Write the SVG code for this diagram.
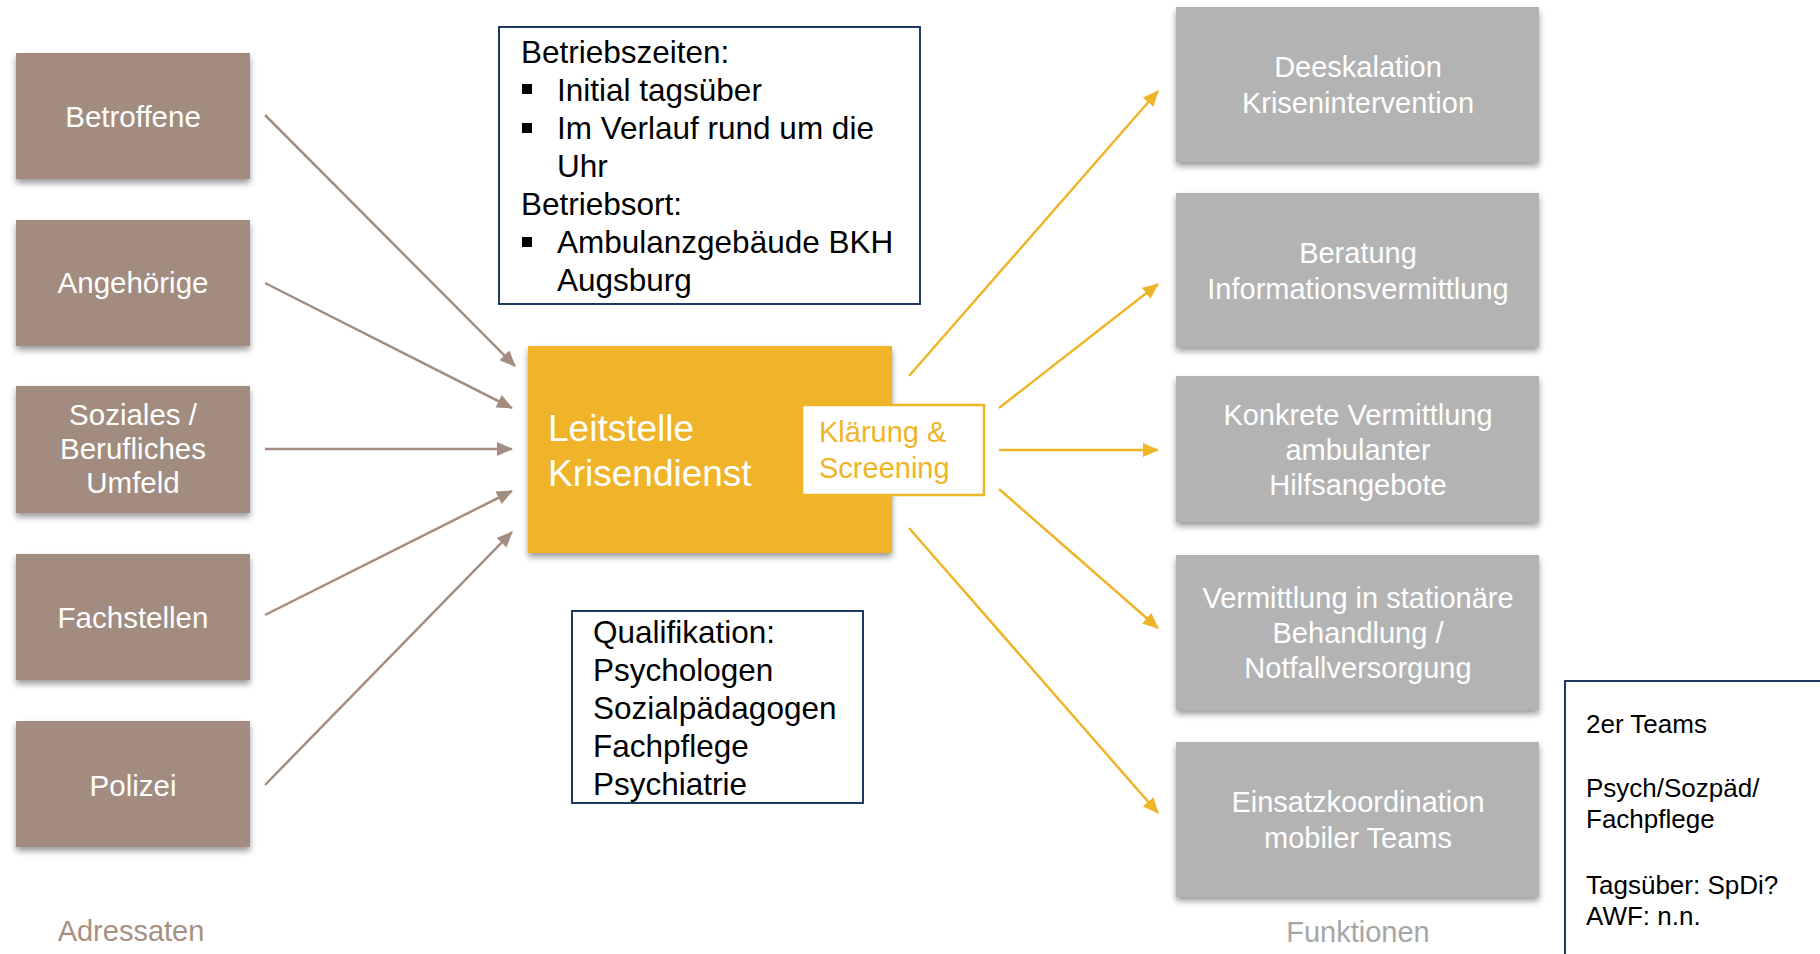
<svg xmlns="http://www.w3.org/2000/svg" width="1820" height="954" viewBox="0 0 1820 954">
<defs>
<filter id="sh" x="-10%" y="-10%" width="125%" height="130%">
<feDropShadow dx="0" dy="4" stdDeviation="3" flood-color="#000" flood-opacity="0.4"/>
</filter>
<marker id="ab" viewBox="0 0 16 14" refX="15" refY="7" markerWidth="16" markerHeight="14" markerUnits="userSpaceOnUse" orient="auto">
<path d="M0,0 L16,7 L0,14 Z" fill="#A38D80"/>
</marker>
<marker id="ao" viewBox="0 0 16 14" refX="15" refY="7" markerWidth="16" markerHeight="14" markerUnits="userSpaceOnUse" orient="auto">
<path d="M0,0 L16,7 L0,14 Z" fill="#F0B429"/>
</marker>
</defs>
<style>
text{font-family:"Liberation Sans",Arial,sans-serif;}
.lb{fill:#A28C7F;filter:url(#sh);}
.rb{fill:#B3B3B3;filter:url(#sh);}
.lt{fill:#fff;font-size:29.5px;text-anchor:middle;}
.rt{fill:#fff;font-size:29px;text-anchor:middle;}
.bx{fill:#fff;stroke:#1F3864;stroke-width:2;}
.bt{fill:#000;font-size:31.5px;}
.tt{fill:#000;font-size:26px;}
.cb{stroke:#A38D80;stroke-width:2.5;fill:none;marker-end:url(#ab);}
.co{stroke:#F0B429;stroke-width:2.5;fill:none;marker-end:url(#ao);}
</style>

<g id="connectors">
<line class="cb" x1="265" y1="115" x2="515" y2="366"/>
<line class="cb" x1="265" y1="283" x2="512" y2="408"/>
<line class="cb" x1="265" y1="449" x2="512" y2="449"/>
<line class="cb" x1="265" y1="615" x2="512" y2="491"/>
<line class="cb" x1="265" y1="785" x2="512" y2="532"/>
<line class="co" x1="909" y1="376" x2="1158" y2="91"/>
<line class="co" x1="999" y1="408" x2="1158" y2="284"/>
<line class="co" x1="999" y1="450" x2="1158" y2="450"/>
<line class="co" x1="999" y1="489" x2="1158" y2="628"/>
<line class="co" x1="909" y1="528" x2="1158" y2="813"/>
</g>

<g id="betroffene"><rect class="lb" x="16" y="53" width="234" height="126"/><text class="lt" x="133" y="127">Betroffene</text></g>
<g id="angehoerige"><rect class="lb" x="16" y="220" width="234" height="126"/><text class="lt" x="133" y="293">Angehörige</text></g>
<g id="soziales"><rect class="lb" x="16" y="386" width="234" height="127"/><text class="lt" x="133" y="425">Soziales /</text><text class="lt" x="133" y="459">Berufliches</text><text class="lt" x="133" y="493">Umfeld</text></g>
<g id="fachstellen"><rect class="lb" x="16" y="554" width="234" height="126"/><text class="lt" x="133" y="628">Fachstellen</text></g>
<g id="polizei"><rect class="lb" x="16" y="721" width="234" height="126"/><text class="lt" x="133" y="796">Polizei</text></g>
<g id="adressaten"><text x="131" y="941" font-size="29" fill="#A89080" text-anchor="middle">Adressaten</text></g>

<g id="betrieb">
<rect class="bx" x="499" y="27" width="421" height="277"/>
<text class="bt" x="521" y="63">Betriebszeiten:</text>
<rect x="522" y="84" width="10" height="10" fill="#000"/>
<text class="bt" x="557" y="101">Initial tagsüber</text>
<rect x="522" y="123" width="10" height="10" fill="#000"/>
<text class="bt" x="557" y="139">Im Verlauf rund um die</text>
<text class="bt" x="557" y="177">Uhr</text>
<text class="bt" x="521" y="215">Betriebsort:</text>
<rect x="522" y="237" width="10" height="10" fill="#000"/>
<text class="bt" x="557" y="253">Ambulanzgebäude BKH</text>
<text class="bt" x="557" y="291">Augsburg</text>
</g>

<g id="leitstelle">
<rect x="528" y="346" width="364" height="207" fill="#F0B429" filter="url(#sh)"/>
<text x="548" y="441" font-size="37" fill="#fff">Leitstelle</text>
<text x="548" y="486" font-size="37" fill="#fff">Krisendienst</text>
</g>
<g id="klaerung">
<rect x="802" y="405" width="182" height="90" fill="#fff" stroke="#F0B429" stroke-width="2.5"/>
<text x="819" y="442" font-size="29" fill="#F0B429">Klärung &amp;</text>
<text x="819" y="478" font-size="29" fill="#F0B429">Screening</text>
</g>

<g id="qualifikation">
<rect class="bx" x="572" y="611" width="291" height="192"/>
<text class="bt" x="593" y="643">Qualifikation:</text>
<text class="bt" x="593" y="681">Psychologen</text>
<text class="bt" x="593" y="719">Sozialpädagogen</text>
<text class="bt" x="593" y="757">Fachpflege</text>
<text class="bt" x="593" y="795">Psychiatrie</text>
</g>

<g id="deeskalation"><rect class="rb" x="1176" y="7" width="363" height="155"/><text class="rt" x="1358" y="77">Deeskalation</text><text class="rt" x="1358" y="113">Krisenintervention</text></g>
<g id="beratung"><rect class="rb" x="1176" y="193" width="363" height="154"/><text class="rt" x="1358" y="263">Beratung</text><text class="rt" x="1358" y="299">Informationsvermittlung</text></g>
<g id="konkrete"><rect class="rb" x="1176" y="376" width="363" height="146"/><text class="rt" x="1358" y="425">Konkrete Vermittlung</text><text class="rt" x="1358" y="460">ambulanter</text><text class="rt" x="1358" y="495">Hilfsangebote</text></g>
<g id="stationaer"><rect class="rb" x="1176" y="555" width="363" height="155"/><text class="rt" x="1358" y="608">Vermittlung in stationäre</text><text class="rt" x="1358" y="643">Behandlung /</text><text class="rt" x="1358" y="678">Notfallversorgung</text></g>
<g id="einsatz"><rect class="rb" x="1176" y="742" width="363" height="155"/><text class="rt" x="1358" y="812">Einsatzkoordination</text><text class="rt" x="1358" y="848">mobiler Teams</text></g>
<g id="funktionen"><text x="1358" y="942" font-size="29" fill="#A6A6A6" text-anchor="middle">Funktionen</text></g>

<g id="teams">
<rect class="bx" x="1565" y="681" width="280" height="300"/>
<text class="tt" x="1586" y="733">2er Teams</text>
<text class="tt" x="1586" y="797">Psych/Sozpäd/</text>
<text class="tt" x="1586" y="828">Fachpflege</text>
<text class="tt" x="1586" y="894">Tagsüber: SpDi?</text>
<text class="tt" x="1586" y="925">AWF: n.n.</text>
</g>
</svg>
